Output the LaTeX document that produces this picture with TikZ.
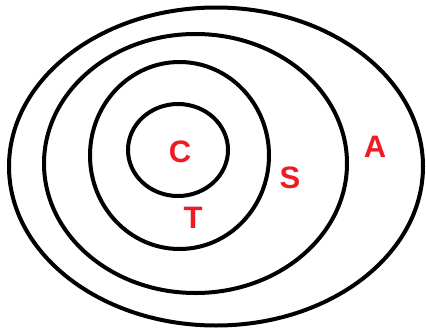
\documentclass[tikz,border=0pt]{standalone}
\usepackage{fontspec}
\setsansfont{Liberation Sans}
\usepackage{tikz}
\usetikzlibrary{positioning, shapes.geometric}
\definecolor{labelred}{RGB}{237,28,36}

\begin{document}
\begin{tikzpicture}[x=1pt, y=-1pt, every node/.style={inner sep=0pt},
  region/.style={ellipse, draw, line width=4pt},
  lbl/.style={text=labelred, font=\sffamily\bfseries\fontsize{31}{31}\selectfont}]
  \useasboundingbox (0,0) rectangle (426,330);
  % nested regions
  \node[region, minimum width=414pt, minimum height=318pt] (outer) at (216,166.5) {};
  \node[region, minimum width=303pt, minimum height=259pt] (second) at (195.5,163.5) {};
  \node[region, minimum width=179pt, minimum height=187pt] (third) at (179.5,155.5) {};
  \node[region, minimum width=100pt, minimum height=92pt] (inner) at (178,150) {};
  % labels
  \node[lbl] (C) at (180,152) {C};
  \node[lbl] (T) at (193,218) {T};
  \node[lbl] (S) at (290,178) {S};
  \node[lbl] (A) at (375,147) {A};
\end{tikzpicture}
\end{document}
